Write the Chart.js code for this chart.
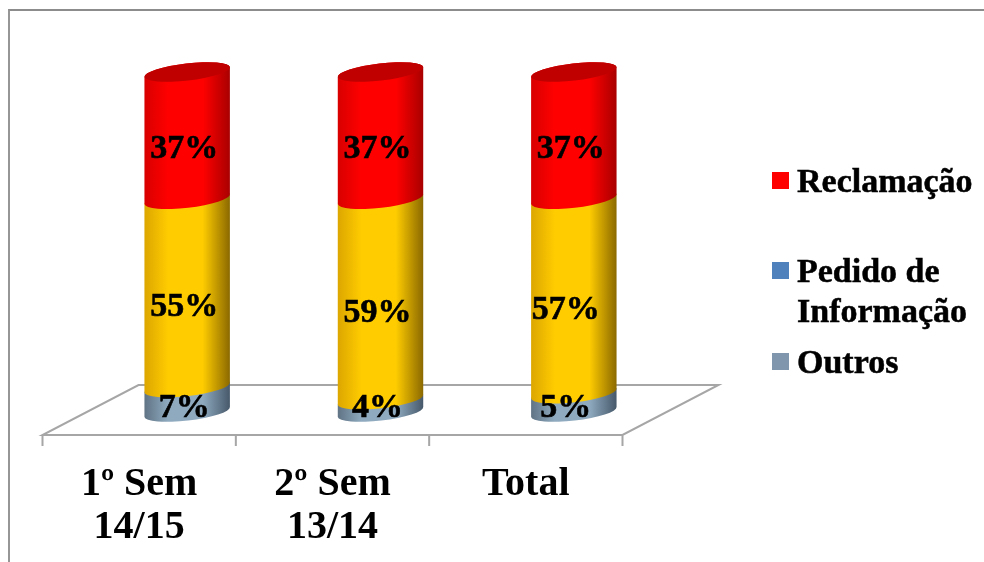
<!DOCTYPE html>
<html>
<head>
<meta charset="utf-8">
<style>
html,body{margin:0;padding:0;background:#fff;}
#frame{position:absolute;left:8px;top:9px;width:976px;height:553px;border-left:2px solid #969696;border-top:2px solid #8c8c8c;box-sizing:border-box;}
canvas{position:absolute;left:0;top:0;}
</style>
<script src="https://cdn.jsdelivr.net/npm/chart.js@4/dist/chart.umd.min.js"></script>
</head>
<body>
<div id="frame"></div>
<canvas id="grafico" width="984" height="562"></canvas>
<script>
var categorias = [['1º Sem','14/15'],['2º Sem','13/14'],['Total']];
var outros = [7.2, 3.6, 5.4];
var pedido = [55.4, 59.0, 57.2];
var reclamacao = [37.4, 37.4, 37.4];

var fonte = '"Liberation Serif", serif';
var cinzaChao = '#a6a6a6';

// rampas do cilindro: esquerda, centro, direita
var rampas = [
    ['#5f7384','#8faabf','#8faabf','#46586a'],
    ['#dca600','#ffcc00','#ffcc00','#8a6800'],
    ['#d80000','#ff0000','#ff0000','#a80000']
];
var corTampa = '#c00000';

var inclina = -6.6*Math.PI/180;
var raioMenor = 8.6;
var fundo = 48;

function gradiente(ctx,x0,x1,r){
    var g = ctx.createLinearGradient(x0,0,x1,0);
    g.addColorStop(0,r[0]);
    g.addColorStop(0.28,r[1]);
    g.addColorStop(0.68,r[2]);
    g.addColorStop(1,r[3]);
    return g;
}

var cilindros = {
    id:'cilindros',
    beforeDraw:function(chart){
        // chao em perspectiva e marcas do eixo
        var c = chart.ctx, a = chart.chartArea, esc = chart.scales.x;
        var e = a.left-fundo, d = a.right-fundo, yf = a.bottom+23, yt = a.bottom-27;
        c.save();
        c.strokeStyle = cinzaChao;
        c.lineWidth = 2;
        c.beginPath();
        c.moveTo(e,yf); c.lineTo(d,yf); c.lineTo(d+fundo*2,yt); c.lineTo(e+fundo*2,yt); c.closePath();
        for(var i=0;i<=categorias.length;i++){
            var x = e+i*(esc.width/categorias.length);
            c.moveTo(x,yf); c.lineTo(x,yf+11);
        }
        c.stroke();
        c.restore();
    },
    beforeDatasetDraw:function(){ return false; },
    afterDatasetsDraw:function(chart){
        var c = chart.ctx;
        for(var k=0;k<categorias.length;k++){
            for(var i=0;i<3;i++){
                var b = chart.getDatasetMeta(i).data[k];
                var r = b.width/2;
                c.beginPath();
                c.ellipse(b.x,b.base,r,raioMenor,inclina,Math.PI,0,true);
                c.ellipse(b.x,b.y,r,raioMenor,inclina,0,Math.PI,true);
                c.closePath();
                c.fillStyle = gradiente(c,b.x-r,b.x+r,rampas[i]);
                c.fill();
                if(i==2){
                    c.beginPath();
                    c.ellipse(b.x,b.y,r,raioMenor,inclina,0,Math.PI*2);
                    c.fillStyle = corTampa;
                    c.fill();
                }
            }
        }
        // rotulos de percentagem
        c.save();
        c.font = 'bold 34px '+fonte;
        c.fillStyle = '#000';
        c.strokeStyle = '#000';
        c.lineWidth = 0.6;
        c.textAlign = 'center';
        c.textBaseline = 'middle';
        for(var k=0;k<categorias.length;k++){
            for(var i=0;i<3;i++){
                var b = chart.getDatasetMeta(i).data[k];
                var v = chart.data.datasets[i].data[k];
                var y = Math.min((b.y+b.base)/2+14, chart.chartArea.bottom-4);
                // no original os rotulos 5% e 57% estao mais a esquerda
                var x = (k==2 && i<2) ? b.x-8 : b.x-3;
                var t = Math.round(v)+'%';
                c.fillText(t,x,y);
                c.strokeText(t,x,y);
            }
        }
        c.restore();
    },
    afterDraw:function(chart){
        // legenda
        var c = chart.ctx;
        var itens = [
            {cor:'#ff0000',linhas:['Reclamação'],y:[183]},
            {cor:'#4f81bd',linhas:['Pedido de','Informação'],y:[273,313]},
            {cor:'#7f96ad',linhas:['Outros'],y:[364]}
        ];
        c.save();
        c.font = 'bold 34px '+fonte;
        c.strokeStyle = '#000';
        c.lineWidth = 0.5;
        c.textBaseline = 'middle';
        itens.forEach(function(it){
            c.fillStyle = it.cor;
            c.fillRect(772,it.y[0]-11,17,17);
            c.fillStyle = '#000';
            it.linhas.forEach(function(t,n){
                c.fillText(t,797,it.y[n]);
                c.strokeText(t,797,it.y[n]);
            });
        });
        c.restore();
    }
};

var ctx = document.getElementById('grafico').getContext('2d');
var myChart = new Chart(ctx,{
    type:'bar',
    data:{
        labels:categorias,
        datasets:[
            {label:'Outros',data:outros,backgroundColor:'#7f96ad'},
            {label:'Pedido de Informação',data:pedido,backgroundColor:'#ffc000'},
            {label:'Reclamação',data:reclamacao,backgroundColor:'#ff0000'}
        ]
    },
    options:{
        responsive:false,
        animation:false,
        layout:{padding:{left:90.5,right:313.5,top:72,bottom:0}},
        datasets:{bar:{categoryPercentage:1,barPercentage:86/193.3}},
        plugins:{legend:{display:false},tooltip:{enabled:false}},
        scales:{
            x:{
                stacked:true,
                grid:{display:false},
                border:{display:false},
                afterFit:function(s){ s.height = 150; },
                ticks:{
                    color:'#000',
                    font:{family:fonte,size:40,weight:'bold',lineHeight:1.08},
                    padding:43,
                    labelOffset:-fundo,
                    maxRotation:0,
                    autoSkip:false
                }
            },
            y:{stacked:true,display:false,min:0,max:100}
        }
    },
    plugins:[cilindros]
});
</script>
</body>
</html>
